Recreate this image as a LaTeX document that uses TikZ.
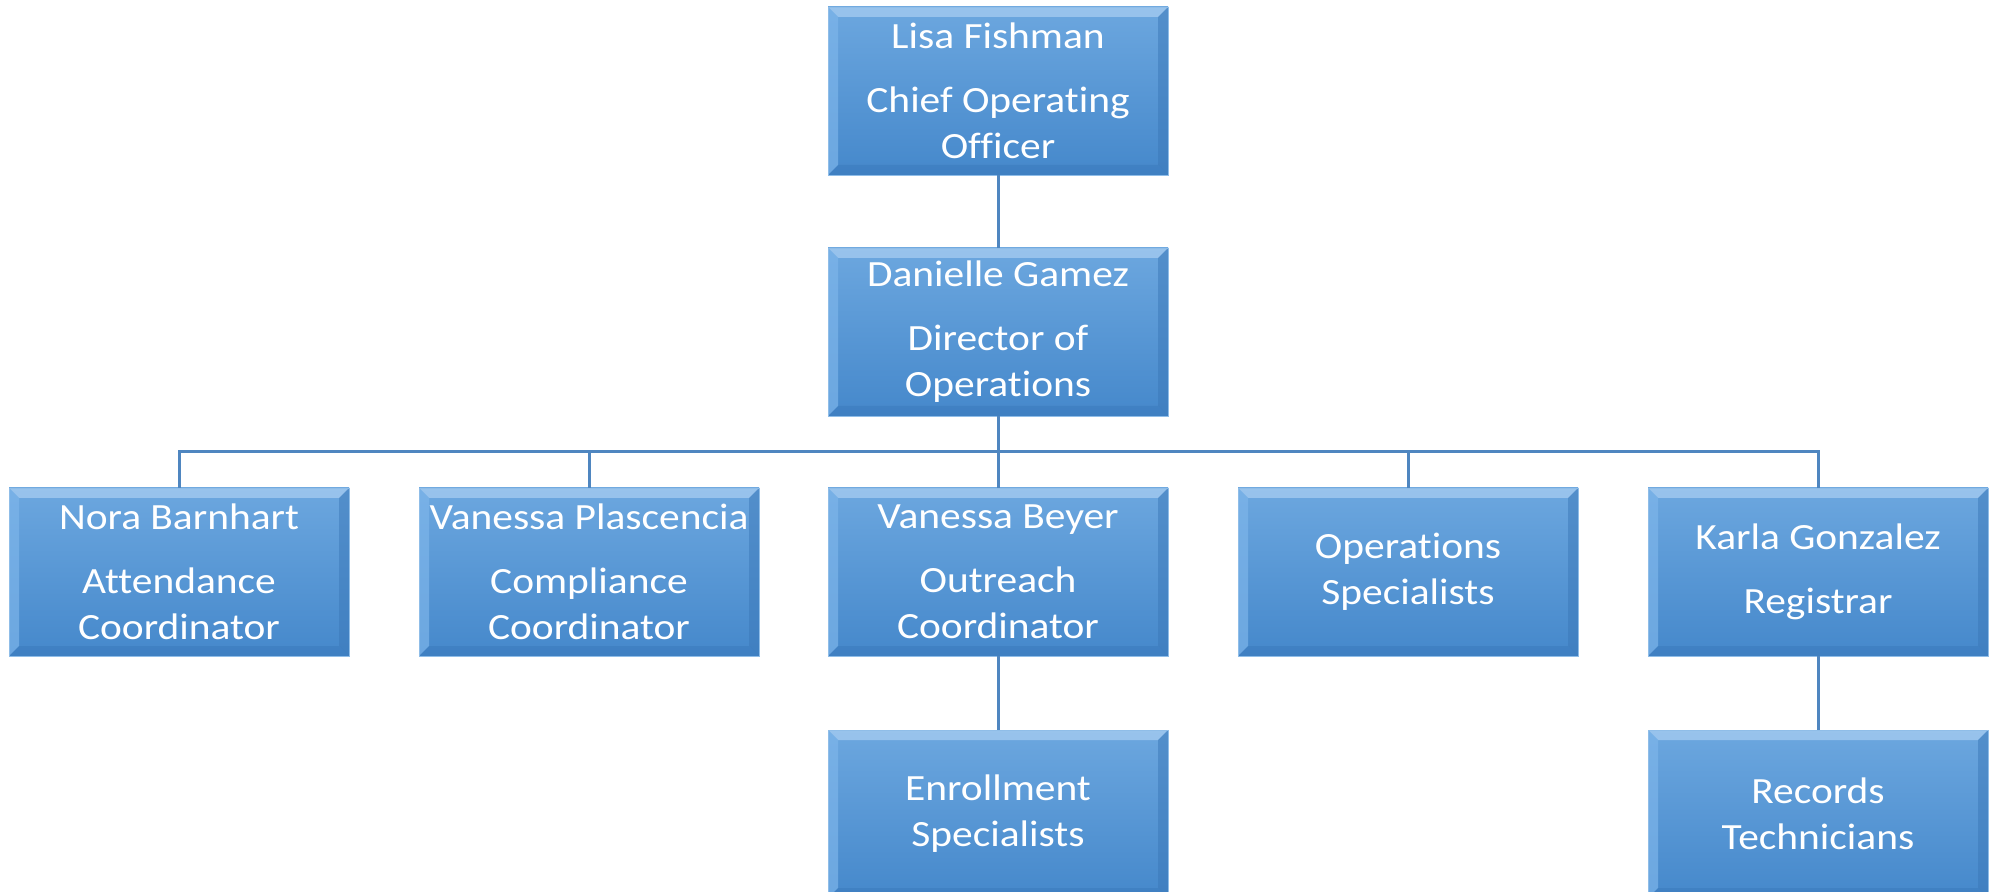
\documentclass[tikz,border=0pt]{standalone}
\usepackage{fontspec}
\setmainfont{Carlito}[FakeStretch=1.12,Ligatures={CommonOff,ContextualOff}]
\definecolor{boxtop}{HTML}{6CA7DF}
\definecolor{boxbot}{HTML}{4588CB}
\definecolor{bevtop}{HTML}{A3CAF0}
\definecolor{bevleft}{HTML}{7DB5EA}
\definecolor{bevright}{HTML}{3B78B8}
\definecolor{bevbot}{HTML}{3A79BB}
\definecolor{edge}{HTML}{8FBDE8}
\definecolor{conn}{HTML}{4F86C0}
\tikzset{
  orgbox/.style={rectangle, minimum width=170pt, minimum height=84pt, inner sep=0pt,
    text=white, align=center, font=\fontsize{18.5}{23}\selectfont,
    top color=boxtop, bottom color=boxbot, draw=edge, line width=0.4pt,
    path picture={
      \fill[bevtop,opacity=0.8] (path picture bounding box.north west) -- (path picture bounding box.north east)
        -- ([xshift=-5pt,yshift=-5pt]path picture bounding box.north east) -- ([xshift=5pt,yshift=-5pt]path picture bounding box.north west) -- cycle;
      \fill[bevleft,opacity=0.7] (path picture bounding box.north west) -- ([xshift=5pt,yshift=-5pt]path picture bounding box.north west)
        -- ([xshift=5pt,yshift=5pt]path picture bounding box.south west) -- (path picture bounding box.south west) -- cycle;
      \fill[bevright,opacity=0.5] (path picture bounding box.north east) -- ([xshift=-5pt,yshift=-5pt]path picture bounding box.north east)
        -- ([xshift=-5pt,yshift=5pt]path picture bounding box.south east) -- (path picture bounding box.south east) -- cycle;
      \fill[bevbot,opacity=0.5] (path picture bounding box.south west) -- ([xshift=5pt,yshift=5pt]path picture bounding box.south west)
        -- ([xshift=-5pt,yshift=5pt]path picture bounding box.south east) -- (path picture bounding box.south east) -- cycle;
    }},
  link/.style={draw=conn, line width=1.5pt}
}
\begin{document}
\begin{tikzpicture}[x=0.5pt,y=-0.5pt]
\useasboundingbox (0,0) rectangle (1996,892);
\clip (0,0) rectangle (1996,892);
\node[orgbox] (lisa) at (998,91) {Lisa Fishman\\[9pt]Chief Operating\\Officer};
\node[orgbox] (danielle) at (998,332) {Danielle Gamez\\[9pt]Director of\\Operations};
\node[orgbox] (nora) at (179,572) {Nora Barnhart\\[9pt]Attendance\\Coordinator};
\node[orgbox] (plas) at (589,572) {Vanessa Plascencia\\[9pt]Compliance\\Coordinator};
\node[orgbox] (beyer) at (998,572) {Vanessa Beyer\\[9pt]Outreach\\Coordinator};
\node[orgbox] (ops) at (1408,572) {Operations\\Specialists};
\node[orgbox] (karla) at (1818,572) {Karla Gonzalez\\[9pt]Registrar};
\node[orgbox] (enroll) at (998,814) {Enrollment\\Specialists};
\node[orgbox] (records) at (1818,814) {Records\\Technicians};
\coordinate (bus) at (998,452);
\draw[link] (lisa.south) -- (danielle.north);
\draw[link] (danielle.south) -- (beyer.north);
\draw[link] (nora.north) -- (nora.north |- bus) -- (karla.north |- bus) -- (karla.north);
\draw[link] (plas.north) -- (plas.north |- bus);
\draw[link] (ops.north) -- (ops.north |- bus);
\draw[link] (beyer.south) -- (enroll.north);
\draw[link] (karla.south) -- (records.north);
\end{tikzpicture}
\end{document}
